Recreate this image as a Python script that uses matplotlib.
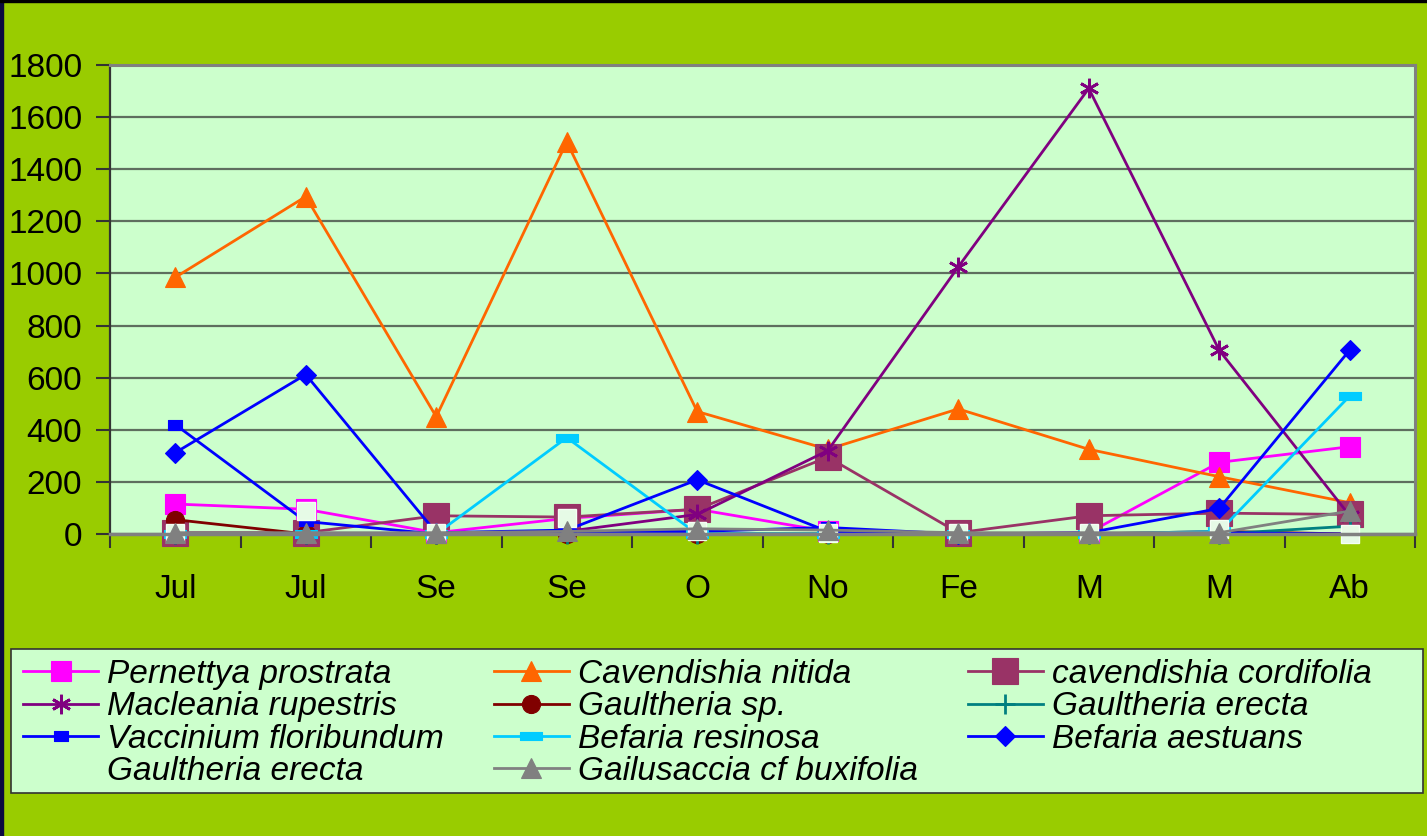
import matplotlib.pyplot as plt
from matplotlib.patches import Rectangle
from matplotlib.lines import Line2D

plt.rcParams['font.family'] = ['Liberation Sans', 'DejaVu Sans']

meses = ['Jul', 'Jul', 'Se', 'Se', 'O', 'No', 'Fe', 'M', 'M', 'Ab']

pernettya_prostrata = [115, 95, 5, 60, 95, 10, 0, 5, 275, 335]
cavendishia_nitida = [985, 1295, 450, 1505, 470, 325, 480, 325, 220, 120]
cavendishia_cordifolia = [5, 5, 70, 65, 95, 295, 5, 70, 80, 75]
macleania_rupestris = [0, 0, 0, 10, 75, 320, 1025, 1710, 705, 70]
gaultheria_sp = [55, 0, 0, 0, 0, 0, 0, 0, 10, 0]
gaultheria_erecta = [0, 0, 0, 0, 0, 0, 0, 0, 0, 30]
vaccinium_floribundum = [420, 48, 0, 10, 10, 25, 0, 0, 5, 0]
befaria_resinosa = [0, 0, 0, 370, 0, 0, 0, 0, 10, 530]
befaria_aestuans = [312, 612, 5, 15, 208, 10, 0, 5, 98, 706]
gaultheria_erecta_2 = [5, 90, 5, 60, 10, 5, 5, 5, 20, 0]
gailusaccia_buxifolia = [5, 5, 5, 10, 20, 15, 5, 5, 5, 88]

# marcadores rectangulares (estilo Excel)
rect_chico = [(-1.5, -1), (1.5, -1), (1.5, 1), (-1.5, 1), (-1.5, -1)]
rect_largo = [(-2.7, -1), (2.7, -1), (2.7, 1), (-2.7, 1), (-2.7, -1)]

series = [
    ('Pernettya prostrata', pernettya_prostrata, '#FF00FF', 's', 14),
    ('Cavendishia nitida', cavendishia_nitida, '#FF6600', '^', 14),
    ('cavendishia cordifolia', cavendishia_cordifolia, '#993366', 's', 19),
    ('Macleania rupestris', macleania_rupestris, '#800080', (6, 2, 0), 14),
    ('Gaultheria sp.', gaultheria_sp, '#800000', 'o', 13),
    ('Gaultheria erecta', gaultheria_erecta, '#008080', '+', 14),
    ('Vaccinium floribundum', vaccinium_floribundum, '#0000FF', rect_chico, 10),
    ('Befaria resinosa', befaria_resinosa, '#00CCFF', rect_largo, 16),
    ('Befaria aestuans', befaria_aestuans, '#0000FF', 'D', 10),
    ('Gaultheria erecta', gaultheria_erecta_2, 'none', 's', 13),
    ('Gailusaccia cf buxifolia', gailusaccia_buxifolia, '#808080', '^', 14),
]

fig = plt.figure(figsize=(14.27, 8.36), dpi=100, facecolor='#99CC00')
ax = fig.add_axes([110/1427, 1 - 534/836, (1415-110)/1427, (534-65)/836])
ax.set_facecolor('#CCFFCC')

x = list(range(len(meses)))
lineas = []
for nombre, valores, color, marcador, tam in series:
    if color == 'none':
        ax.plot(x, valores, linestyle='none', marker=marcador, markersize=tam,
                markerfacecolor='#E6FAE6', markeredgecolor='#F4FFF4',
                markeredgewidth=1, clip_on=False)
        # en la leyenda de Excel esta serie no muestra simbolo
        l = Line2D([], [], linestyle='none', marker='none')
    else:
        l, = ax.plot(x, valores, color=color, linewidth=2.0, marker=marcador,
                     markersize=tam, markerfacecolor=color, markeredgecolor=color,
                     markeredgewidth=2 if marcador in ('+', (6, 2, 0)) else 0.8,
                     clip_on=False)
    lineas.append(l)

ax.set_xlim(-0.5, 9.5)
ax.set_ylim(0, 1800)
ax.set_yticks(range(0, 1801, 200))
ax.set_xticks(x)
ax.set_xticklabels(meses)
ax.set_xticks([i + 0.5 for i in range(-1, 10)], minor=True)
ax.tick_params(axis='x', which='major', length=0, pad=29, labelsize=24)
ax.tick_params(axis='x', which='minor', length=10, width=1.5, color='#333333', direction='out')
ax.tick_params(axis='y', length=10, width=1.5, color='#333333', pad=10, labelsize=24)
ax.yaxis.grid(True, color='#5E6E5E', linewidth=1.6)
ax.set_axisbelow(True)

for lado in ['top', 'right']:
    ax.spines[lado].set_color('#808080')
    ax.spines[lado].set_linewidth(2.2)
ax.spines['left'].set_color('#333333')
ax.spines['left'].set_linewidth(1.6)
ax.spines['bottom'].set_color('#808080')
ax.spines['bottom'].set_linewidth(2.5)

# caja de la leyenda
fig.patches.append(Rectangle((11/1427, 1 - 793/836), (1423-11)/1427, (793-649)/836,
                             transform=fig.transFigure, facecolor='#CCFFCC',
                             edgecolor='#333333', linewidth=1.2, zorder=1))

# orden de la leyenda por columnas (Excel la llena por filas)
orden = [0, 3, 6, 9, 1, 4, 7, 10, 2, 5, 8]
leg = fig.legend([lineas[i] for i in orden], [series[i][0] for i in orden],
                 loc='upper left', bbox_to_anchor=(23/1427, 1 - 659/836),
                 ncol=3, prop={'style': 'italic', 'size': 24}, frameon=False,
                 borderaxespad=0, borderpad=0, handlelength=2.25, handletextpad=0.27,
                 labelspacing=0.04, columnspacing=1.5)

# bordes oscuros de la diapositiva
fig.patches.append(Rectangle((0, 0), 3/1427, 1, transform=fig.transFigure,
                             color='#0A0A40', zorder=10))
fig.patches.append(Rectangle((0, 1 - 2/836), 1, 2/836, transform=fig.transFigure,
                             color='#000000', zorder=10))

plt.savefig('out.png', dpi=100, facecolor=fig.get_facecolor())
